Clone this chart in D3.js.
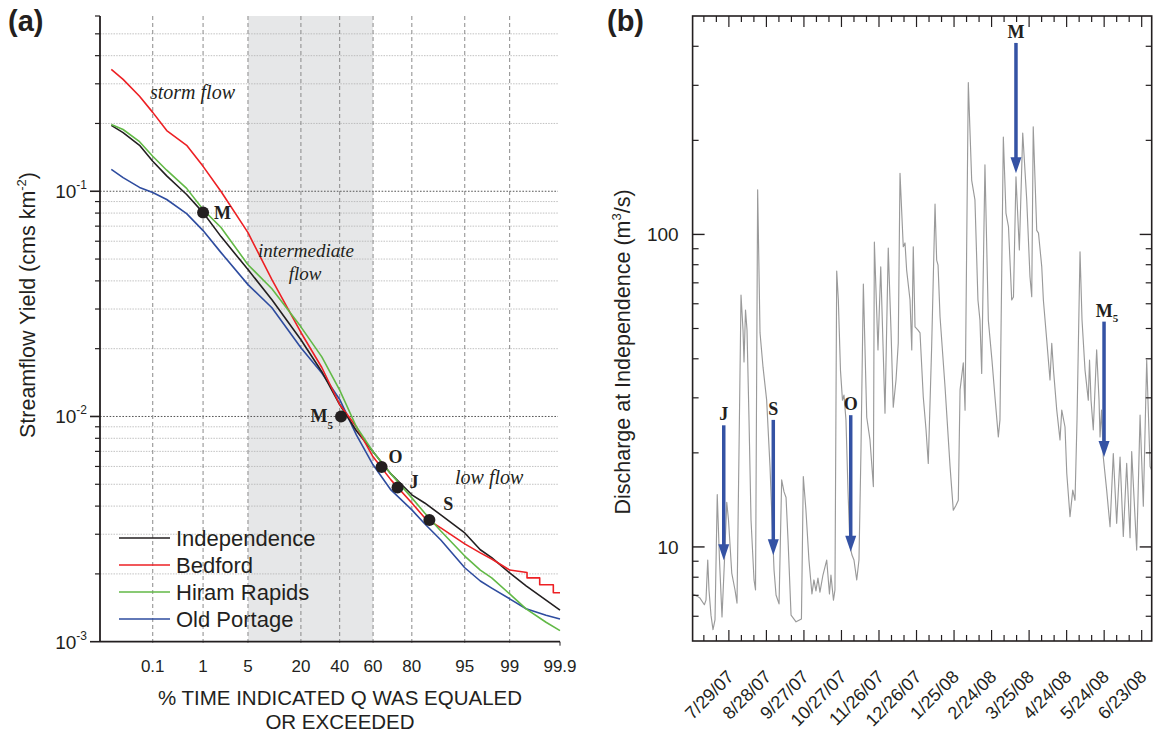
<!DOCTYPE html>
<html>
<head>
<meta charset="utf-8">
<script src="https://cdn.jsdelivr.net/npm/d3@7"></script>
<style>
  body { margin: 0; background: #fff; }
  svg { display: block; }
  .sans { font-family: "Liberation Sans", Arial, Helvetica, sans-serif; fill: #231f20; }
  .serif { font-family: "Liberation Serif", "Times New Roman", serif; fill: #231f20; }
</style>
</head>
<body>
<svg id="chart" width="1155" height="736"></svg>
<script>
// ---------- (a) flow duration curves ----------
const exceedPct = [0.01, 0.02, 0.05, 0.1, 0.2, 0.5, 1, 2, 5, 10, 20, 30, 40, 50, 60, 70, 80, 85, 90, 95, 97, 98, 99, 99.5, 99.8, 99.9];
const independence = [0.196, 0.182, 0.160, 0.136, 0.117, 0.0967, 0.0804, 0.0629, 0.0449, 0.0330, 0.0219, 0.0158, 0.0113, 0.00864, 0.00697, 0.00556, 0.00449, 0.00413, 0.00366, 0.00304, 0.00256, 0.00236, 0.00202, 0.00177, 0.00153, 0.00138];
const hiramRapids  = [0.198, 0.188, 0.166, 0.143, 0.124, 0.103, 0.0829, 0.0690, 0.0472, 0.0369, 0.0250, 0.0184, 0.0131, 0.00900, 0.00697, 0.00556, 0.00435, 0.00373, 0.00310, 0.00240, 0.00208, 0.00192, 0.00163, 0.00140, 0.00122, 0.00112];
const oldPortage   = [0.125, 0.115, 0.104, 0.0987, 0.0919, 0.0796, 0.0669, 0.0534, 0.0385, 0.0304, 0.0202, 0.0156, 0.0119, 0.00829, 0.00610, 0.00472, 0.00385, 0.00334, 0.00283, 0.00213, 0.00186, 0.00173, 0.00155, 0.00140, 0.00131, 0.00126];
// Bedford has coarser recorded low flows, so its tail is a staircase
const bedfordPct = [0.01, 0.02, 0.05, 0.1, 0.2, 0.5, 1, 2, 5, 10, 20, 30, 40, 50, 60, 70, 80, 85, 90, 95, 97, 98, 99, 99.52, 99.52, 99.73, 99.73, 99.86, 99.86, 99.9];
const bedford    = [0.348, 0.314, 0.264, 0.224, 0.186, 0.160, 0.129, 0.0997, 0.0655, 0.0405, 0.0236, 0.0165, 0.0113, 0.00900, 0.00662, 0.00523, 0.00413, 0.00355, 0.00320, 0.00272, 0.00248, 0.00233, 0.00208, 0.00203, 0.00192, 0.00192, 0.00179, 0.00179, 0.00165, 0.00165];
const stationNames  = ["Independence", "Bedford", "Hiram Rapids", "Old Portage"];
const stationColors = ["#231f20", "#ed2024", "#62b946", "#2e4c9f"];

const probTicks  = [0.1, 1, 5, 20, 40, 60, 80, 95, 99, 99.9];
const yieldMajor = [0.1, 0.01, 0.001];
const yieldExp   = ["-1", "-2", "-3"];

const sampleNames = ["M", "M", "O", "J", "S"];
const sampleSubs  = ["", "5", "", "", ""];
const samplePct   = [1.0, 40.8, 64.9, 73.4, 86.6];
const sampleYield = [0.0804, 0.0100, 0.00597, 0.00484, 0.00347];

// ---------- (b) daily discharge at Independence (turning points) ----------
// day = days after 30 June 2007, q = discharge (m3/s)
const hydroStart = Date.UTC(2007, 5, 30);
const hydroDay = [0, 3.5, 5.9, 9.4, 10.7, 12.1, 13.1, 14.7, 16.3, 17.9, 19.7, 21.5, 23.5, 25.5, 27.3, 28.7, 31.3, 33.9, 35.5, 37.1,
  38.7, 40.3, 41.1, 42.3, 43.5, 45.1, 46.7, 49.1, 50.3, 52.0, 53.9, 56.3, 59.2, 61.9, 63.5, 65.1, 66.7, 69.1, 71.2, 73.1,
  74.7, 76.3, 78.7, 82.7, 87.0, 88.5, 90.6, 93.0, 95.4, 97.0, 98.6, 100.2, 101.8, 104.2, 107.2, 109.4, 110.6, 112.6, 113.8, 115.2,
  116.5, 118.2, 119.8, 121.0, 122.6, 124.2, 125.8, 127.4, 129.0, 131.2, 133.0, 134.6, 136.5, 139.2, 141.8, 144.5, 145.3, 148.2, 150.4, 153.8,
  156.4, 158.6, 160.4, 162.6, 164.4, 165.8, 168.4, 169.8, 171.1, 173.8, 175.2, 176.4, 177.8, 180.2, 181.8, 184.4, 186.6, 188.4, 191.1, 193.8,
  195.1, 196.2, 197.8, 201.8, 205.8, 208.4, 210.6, 212.4, 213.8, 216.4, 217.8, 220.4, 223.1, 225.7, 228.1, 229.7, 231.1, 233.7, 236.4, 239.3,
  241.7, 244.4, 245.7, 248.4, 250.5, 252.5, 255.1, 256.5, 258.5, 261.2, 263.9, 267.1, 269.7, 271.1, 272.3, 275.1, 276.5, 279.1, 280.4, 283.1,
  285.7, 287.1, 288.5, 291.1, 293.7, 295.1, 297.7, 299.1, 301.7, 303.9, 305.7, 307.3, 309.7, 311.3, 313.7, 316.3, 317.3, 318.5, 320.3, 323.0,
  324.9, 325.7, 326.9, 328.3, 331.0, 333.7, 336.3, 339.0, 341.7, 344.3, 347.0, 349.7, 351.0, 355.0, 357.7, 360.3, 363.0, 365.7, 367];
const hydroQ = [7.07, 6.96, 6.86, 6.53, 6.76, 9.08, 7.28, 6.05, 5.44, 5.84, 14.7, 9.08, 5.97, 9.08, 13.9, 12.2, 8.25, 7.28, 6.61, 20.4,
  64.0, 49.4, 39.1, 57.3, 49.4, 25.5, 12.2, 7.84, 7.28, 139, 48.4, 37.6, 29.5, 18.0, 12.2, 8.44, 7.02, 6.57, 16.4, 15.0,
  14.4, 10.5, 6.05, 5.76, 5.88, 16.8, 13.1, 9.08, 7.07, 7.84, 7.23, 7.95, 7.17, 8.13, 9.08, 7.07, 8.13, 6.76, 7.28, 76.4,
  61.7, 36.8, 29.5, 30.6, 25.5, 15.2, 10.1, 9.42, 9.08, 7.84, 9.08, 20.4, 69.4, 26.0, 22.0, 15.6, 94.6, 42.7, 78.7, 26.8,
  90.4, 49.4, 28.0, 34.2, 44.9, 157, 91.3, 93.9, 76.9, 61.7, 42.7, 91.3, 50.6, 49.4, 48.4, 30.2, 23.7, 18.5, 43.7, 125,
  82.8, 79.8, 54.5, 32.5, 18.1, 13.1, 13.6, 14.1, 31.8, 38.8, 27.4, 306, 149, 129, 61.7, 53.2, 35.9, 167, 53.2, 39.6,
  30.2, 22.5, 25.5, 205, 117, 106, 61.7, 63.1, 153, 89.2, 211, 129, 73.2, 63.2, 221, 103, 101, 78.9, 61.7, 45.9,
  34.2, 44.8, 36.8, 27.4, 22.0, 27.4, 24.2, 17.2, 12.5, 15.2, 14.1, 25.5, 88.0, 53.2, 36.8, 29.5, 39.6, 29.5, 23.7, 42.7,
  29.5, 22.5, 27.4, 19.4, 15.2, 11.6, 19.9, 11.9, 19.4, 10.8, 18.5, 10.7, 20.2, 9.77, 26.4, 13.5, 39.6, 18.1, 17.6];

const dateTicks = ["2007-07-29", "2007-08-28", "2007-09-27", "2007-10-27", "2007-11-26", "2007-12-26", "2008-01-25", "2008-02-24", "2008-03-25", "2008-04-24", "2008-05-24", "2008-06-23"];

const arrowNames = ["J", "S", "O", "M", "M"];
const arrowSubs  = ["", "", "", "", "5"];
const arrowDay   = [24.9, 64.5, 126.4, 258.5, 328.9];
const arrowFrom  = [24.5, 25.5, 26.4, 410, 52.6];
const arrowTo    = [9.06, 9.4, 9.65, 157, 19.4];

// Inverse standard normal CDF (Acklam's rational approximation)
function probit(p) {
  const a = [-3.969683028665376e+01, 2.209460984245205e+02, -2.759285104469687e+02, 1.383577518672690e+02, -3.066479806614716e+01, 2.506628277459239e+00];
  const b = [-5.447609879822406e+01, 1.615858368580409e+02, -1.556989798598866e+02, 6.680131188771972e+01, -1.328068155288572e+01];
  const c = [-7.784894002430293e-03, -3.223964580411365e-01, -2.400758277161838e+00, -2.549671010228435e+00, 4.374664141464968e+00, 2.938163982698783e+00];
  const d = [7.784695709041462e-03, 3.224671290700398e-01, 2.445134137142996e+00, 3.754408661907416e+00];
  const pl = 0.02425, ph = 1 - pl;
  let q, r;
  if (p < pl) {
    q = Math.sqrt(-2 * Math.log(p));
    return (((((c[0]*q+c[1])*q+c[2])*q+c[3])*q+c[4])*q+c[5]) / ((((d[0]*q+d[1])*q+d[2])*q+d[3])*q+1);
  }
  if (p <= ph) {
    q = p - 0.5; r = q * q;
    return (((((a[0]*r+a[1])*r+a[2])*r+a[3])*r+a[4])*r+a[5])*q / (((((b[0]*r+b[1])*r+b[2])*r+b[3])*r+b[4])*r+1);
  }
  q = Math.sqrt(-2 * Math.log(1 - p));
  return -(((((c[0]*q+c[1])*q+c[2])*q+c[3])*q+c[4])*q+c[5]) / ((((d[0]*q+d[1])*q+d[2])*q+d[3])*q+1);
}

const svg = d3.select("#chart");
const SANS = "sans", SERIF = "serif";
const INK = "#231f20";

// ===================== Panel (a) =====================
const A = { left: 100, right: 560, top: 16, bottom: 641.7 };
const zScale = d3.scaleLinear().domain([probit(0.00005), probit(0.999)]).range([A.left, A.right]);
const xA = p => zScale(probit(p / 100));
const yA = d3.scaleLog().domain([0.001, 0.6]).range([A.bottom, A.top]);

const gA = svg.append("g");

// shaded intermediate-flow band (5-60 %)
gA.append("rect")
  .attr("x", xA(5)).attr("y", A.top)
  .attr("width", xA(60) - xA(5)).attr("height", A.bottom - A.top)
  .attr("fill", "#e6e7e8");

// horizontal grid
const minorYield = [];
[0.001, 0.01, 0.1].forEach(base => {
  for (let k = 2; k <= 9; k++) { const v = base * k; if (v < 0.6) minorYield.push(v); }
});
gA.append("g").selectAll("line").data(minorYield).join("line")
  .attr("x1", A.left).attr("x2", A.right - 2)
  .attr("y1", d => yA(d)).attr("y2", d => yA(d))
  .attr("stroke", "#b3b3b3").attr("stroke-width", 0.8).attr("stroke-dasharray", "1.5,1.2");
gA.append("g").selectAll("line").data([0.1, 0.01]).join("line")
  .attr("x1", A.left).attr("x2", A.right - 2)
  .attr("y1", d => yA(d)).attr("y2", d => yA(d))
  .attr("stroke", "#555").attr("stroke-width", 1).attr("stroke-dasharray", "1.6,1.6");

// vertical grid
gA.append("g").selectAll("line").data(probTicks.slice(0, -1)).join("line")
  .attr("x1", d => xA(d)).attr("x2", d => xA(d))
  .attr("y1", A.top).attr("y2", A.bottom + 3)
  .attr("stroke", "#8a8a8a").attr("stroke-width", 1).attr("stroke-dasharray", "4,3");

// duration curves
const curves = [
  { pct: exceedPct, q: independence },
  { pct: bedfordPct, q: bedford },
  { pct: exceedPct, q: hiramRapids },
  { pct: exceedPct, q: oldPortage }
];
const lineA = d3.line().x(d => xA(d[0])).y(d => yA(d[1]));
[3, 0, 1, 2].forEach(i => {
  const c = curves[i];
  gA.append("path")
    .datum(c.pct.map((p, j) => [p, c.q[j]]))
    .attr("d", lineA)
    .attr("fill", "none")
    .attr("stroke", stationColors[i])
    .attr("stroke-width", 1.6)
    .attr("stroke-linejoin", "round");
});

// flow regime labels
gA.append("text").attr("class", SERIF).attr("x", 150).attr("y", 99)
  .attr("font-size", 20).attr("font-style", "italic").text("storm flow");
gA.append("text").attr("class", SERIF).attr("x", 306).attr("y", 257)
  .attr("font-size", 19).attr("font-style", "italic").attr("text-anchor", "middle").text("intermediate");
gA.append("text").attr("class", SERIF).attr("x", 305).attr("y", 280)
  .attr("font-size", 19).attr("font-style", "italic").attr("text-anchor", "middle").text("flow");
gA.append("text").attr("class", SERIF).attr("x", 455).attr("y", 484)
  .attr("font-size", 20).attr("font-style", "italic").text("low flow");

// sampling points
gA.append("g").selectAll("circle").data(samplePct).join("circle")
  .attr("cx", d => xA(d)).attr("cy", (d, i) => yA(sampleYield[i]))
  .attr("r", 6).attr("fill", INK);

const sampleLabelOffset = [[11, 6, "start"], [-8, 6, "end"], [7, -4, "start"], [12, 1, "start"], [14, -10, "start"]];
samplePct.forEach((p, i) => {
  const [dx, dy, anchor] = sampleLabelOffset[i];
  const t = gA.append("text").attr("class", SERIF)
    .attr("x", xA(p) + dx).attr("y", yA(sampleYield[i]) + dy)
    .attr("font-size", 18).attr("font-weight", "bold").attr("text-anchor", anchor);
  t.append("tspan").text(sampleNames[i]);
  if (sampleSubs[i]) t.append("tspan").attr("font-size", 11).attr("dy", 7).text(sampleSubs[i]);
});

// axes
gA.append("line").attr("x1", A.left).attr("x2", A.left).attr("y1", A.top).attr("y2", A.bottom)
  .attr("stroke", INK).attr("stroke-width", 1.8);
gA.append("line").attr("x1", A.left).attr("x2", A.right).attr("y1", A.bottom).attr("y2", A.bottom)
  .attr("stroke", INK).attr("stroke-width", 1.8);
gA.append("line").attr("x1", xA(99.9)).attr("x2", xA(99.9)).attr("y1", A.bottom).attr("y2", A.bottom + 4)
  .attr("stroke", INK).attr("stroke-width", 1);

gA.append("g").selectAll("line").data(minorYield.concat([0.6])).join("line")
  .attr("x1", A.left - 5).attr("x2", A.left)
  .attr("y1", d => yA(d)).attr("y2", d => yA(d))
  .attr("stroke", INK).attr("stroke-width", 1.2);
gA.append("g").selectAll("line").data(yieldMajor).join("line")
  .attr("x1", A.left - 10).attr("x2", A.left)
  .attr("y1", d => yA(d)).attr("y2", d => yA(d))
  .attr("stroke", INK).attr("stroke-width", 1.6);

yieldMajor.forEach((v, i) => {
  const t = gA.append("text").attr("class", SANS)
    .attr("x", A.left - 13).attr("y", yA(v) + 7)
    .attr("font-size", 19).attr("text-anchor", "end");
  t.append("tspan").text("10");
  t.append("tspan").attr("font-size", 12).attr("dy", -9).text(yieldExp[i]);
});

gA.append("g").selectAll("text").data(probTicks).join("text")
  .attr("class", SANS)
  .attr("x", d => xA(d)).attr("y", A.bottom + 30)
  .attr("font-size", 17).attr("text-anchor", "middle")
  .text(d => String(d));

gA.append("text").attr("class", SANS).attr("x", 340).attr("y", 705)
  .attr("font-size", 20.5).attr("text-anchor", "middle").text("% TIME INDICATED Q WAS EQUALED");
gA.append("text").attr("class", SANS).attr("x", 340).attr("y", 729)
  .attr("font-size", 20.5).attr("text-anchor", "middle").text("OR EXCEEDED");

const yTitleA = gA.append("text").attr("class", SANS)
  .attr("transform", "translate(35,305) rotate(-90)")
  .attr("font-size", 21.5).attr("text-anchor", "middle");
yTitleA.append("tspan").text("Streamflow Yield (cms km");
yTitleA.append("tspan").attr("font-size", 13).attr("dy", -9).text("-2");
yTitleA.append("tspan").attr("dy", 9).text(")");

// legend
const legY = [538, 565, 592, 619];
stationNames.forEach((name, i) => {
  gA.append("line").attr("x1", 119).attr("x2", 170).attr("y1", legY[i]).attr("y2", legY[i])
    .attr("stroke", stationColors[i]).attr("stroke-width", 1.6);
  gA.append("text").attr("class", SANS).attr("x", 176).attr("y", legY[i] + 8)
    .attr("font-size", 22).text(name);
});

svg.append("text").attr("class", SANS).attr("x", 8).attr("y", 31)
  .attr("font-size", 29).attr("font-weight", "bold").text("(a)");

// ===================== Panel (b) =====================
const B = { left: 692.6, right: 1151.7, top: 16, bottom: 641 };
const DAY = 86400000;
const xB = d3.scaleUtc().domain([hydroStart, Date.UTC(2008, 6, 1)]).range([B.left, B.right]);
const yB = d3.scaleLog().domain([5, 500]).range([B.bottom, B.top]);
const gB = svg.append("g");

gB.append("clipPath").attr("id", "plotB").append("rect")
  .attr("x", B.left).attr("y", B.top).attr("width", B.right - B.left).attr("height", B.bottom - B.top);

const lineB = d3.line().x(d => xB(hydroStart + d[0] * DAY)).y(d => yB(d[1]));
gB.append("path")
  .datum(hydroDay.map((d, i) => [d, hydroQ[i]]))
  .attr("d", lineB)
  .attr("clip-path", "url(#plotB)")
  .attr("fill", "none").attr("stroke", "#9a9a9a").attr("stroke-width", 1.15)
  .attr("stroke-linejoin", "round");

// frame
gB.append("rect").attr("x", B.left).attr("y", B.top)
  .attr("width", B.right - B.left).attr("height", B.bottom - B.top)
  .attr("fill", "none").attr("stroke", INK).attr("stroke-width", 1.6);

// y ticks, inward on both sides
const qMinor = [6, 7, 8, 9, 20, 30, 40, 50, 60, 70, 80, 90, 200, 300, 400];
const qMajor = [10, 100];
[[B.left, 1], [B.right, -1]].forEach(([x0, dir]) => {
  gB.append("g").selectAll("line").data(qMinor).join("line")
    .attr("x1", x0).attr("x2", x0 + dir * 6)
    .attr("y1", d => yB(d)).attr("y2", d => yB(d))
    .attr("stroke", INK).attr("stroke-width", 1.2);
  gB.append("g").selectAll("line").data(qMajor).join("line")
    .attr("x1", x0).attr("x2", x0 + dir * 12)
    .attr("y1", d => yB(d)).attr("y2", d => yB(d))
    .attr("stroke", INK).attr("stroke-width", 1.4);
});
gB.append("g").selectAll("text").data(qMajor).join("text")
  .attr("class", SANS).attr("x", B.left - 14).attr("y", d => yB(d) + 7)
  .attr("font-size", 19).attr("text-anchor", "end").text(d => d);

// x ticks every 10 days, longer every 30 days
const tickDates = d3.utcDay.range(Date.UTC(2007, 6, 9), Date.UTC(2008, 6, 1), 1)
  .filter(d => Math.round((d - Date.UTC(2007, 6, 9)) / DAY) % 10 === 0);
const majorSet = new Set(dateTicks.map(s => Date.parse(s + "T00:00:00Z")));
[[B.bottom, -1], [B.top, 1]].forEach(([y0, dir]) => {
  gB.append("g").selectAll("line").data(tickDates).join("line")
    .attr("x1", d => xB(d)).attr("x2", d => xB(d))
    .attr("y1", y0).attr("y2", d => y0 + dir * (majorSet.has(+d) ? 11 : 6))
    .attr("stroke", INK).attr("stroke-width", 1.2);
});
const fmt = d3.utcFormat("%-m/%-d/%y");
gB.append("g").selectAll("text").data(dateTicks).join("text")
  .attr("class", SANS)
  .attr("transform", d => `translate(${xB(Date.parse(d + "T00:00:00Z")) + 6},${B.bottom + 37}) rotate(-45)`)
  .attr("font-size", 18).attr("text-anchor", "end")
  .text(d => fmt(new Date(d + "T00:00:00Z")));

const yTitleB = gB.append("text").attr("class", SANS)
  .attr("transform", "translate(630,352) rotate(-90)")
  .attr("font-size", 21.5).attr("text-anchor", "middle");
yTitleB.append("tspan").text("Discharge at Independence (m");
yTitleB.append("tspan").attr("font-size", 13).attr("dy", -9).text("3");
yTitleB.append("tspan").attr("dy", 9).text("/s)");

// sampling arrows
const arrowColor = "#3452a4";
arrowDay.forEach((d, i) => {
  const x = xB(hydroStart + d * DAY);
  const y0 = yB(arrowFrom[i]), y1 = yB(arrowTo[i]);
  gB.append("line").attr("x1", x).attr("x2", x).attr("y1", y0).attr("y2", y1 - 12)
    .attr("stroke", arrowColor).attr("stroke-width", 3.5);
  gB.append("path")
    .attr("d", `M${x - 5.5},${y1 - 16} L${x + 5.5},${y1 - 16} L${x},${y1} Z`)
    .attr("fill", arrowColor);
  const t = gB.append("text").attr("class", SERIF)
    .attr("x", x + (arrowSubs[i] ? 3 : 0)).attr("y", y0 - 5)
    .attr("font-size", 18).attr("font-weight", "bold").attr("text-anchor", "middle");
  t.append("tspan").text(arrowNames[i]);
  if (arrowSubs[i]) t.append("tspan").attr("font-size", 11).attr("dy", 5).text(arrowSubs[i]);
});

svg.append("text").attr("class", SANS).attr("x", 607).attr("y", 31)
  .attr("font-size", 29).attr("font-weight", "bold").text("(b)");
</script>
</body>
</html>
